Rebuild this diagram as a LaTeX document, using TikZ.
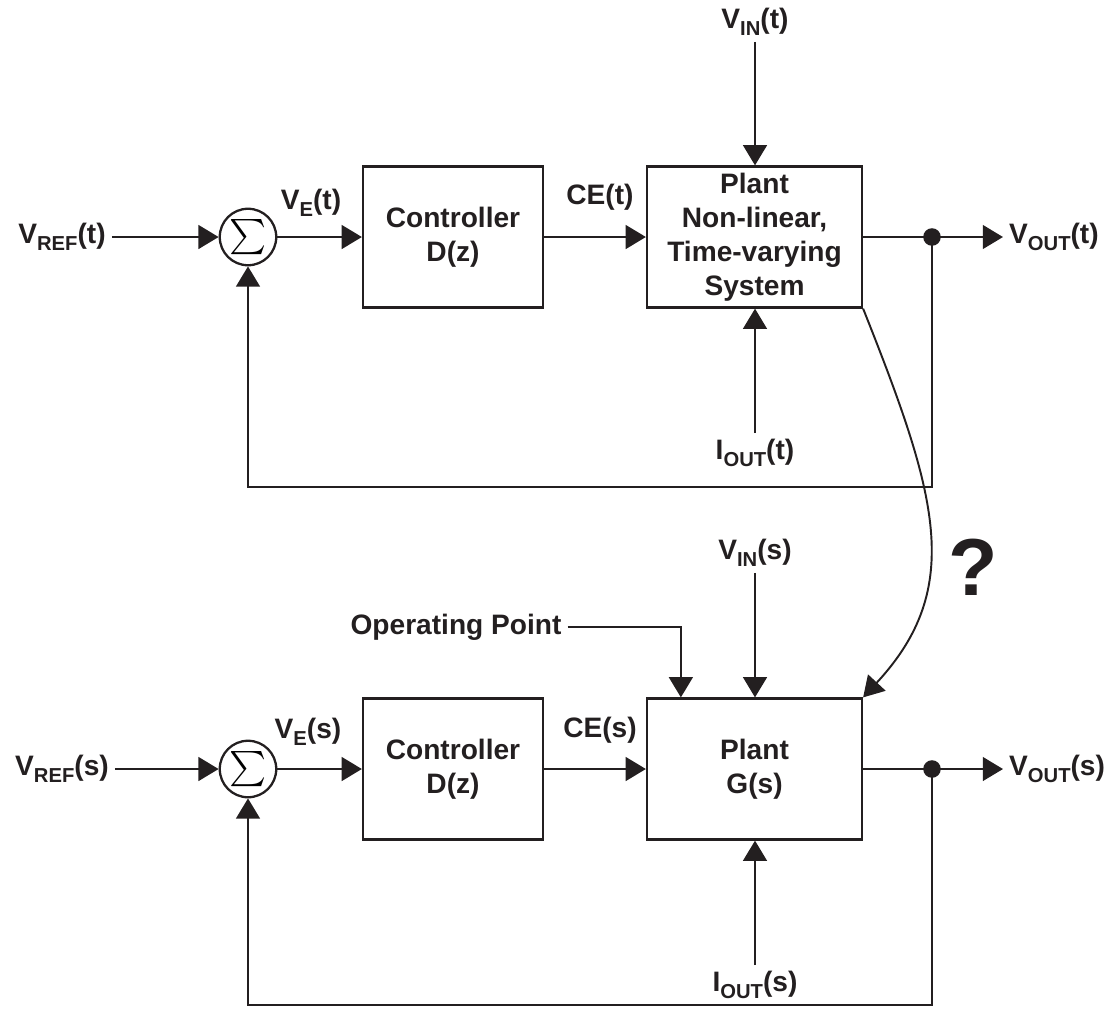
\documentclass[tikz,border=0pt]{standalone}
\usepackage{fontspec}
\setmainfont{Liberation Sans}
\usepackage{graphicx}
\usepackage{tikz}
\usetikzlibrary{calc,arrows.meta}
\definecolor{ink}{HTML}{231F20}
\newcommand{\sbs}[1]{\raisebox{-0.25em}{\fontsize{11.5}{11.5}\selectfont #1}}
\newcommand{\sumsym}{\scalebox{2}{$\sum$}}
\tikzset{
  wire/.style={draw=ink, line width=1.3pt},
  sig/.style={wire, -{Triangle[length=11.5pt,width=13.5pt]}},
  lab/.style={text=ink, font=\fontsize{16}{19.3}\selectfont\bfseries},
  blk/.style={lab, draw=ink, line width=1.3pt, minimum width=3.6cm, minimum height=2.82cm, align=center, inner sep=0pt},
  wblk/.style={blk, minimum width=4.3cm},
  sumc/.style={circle, draw=ink, line width=1.3pt, minimum size=1.13cm, inner sep=0pt},
  dot/.style={circle, fill=ink, inner sep=0pt, minimum size=10pt},
}

\begin{document}
\begin{tikzpicture}[x=0.02cm, y=-0.02cm]
  \useasboundingbox (0,0) rectangle (1119,1019);

  % time domain loop
  \node[sumc] (sum_t) at (248,237) {\sumsym};
  \node[blk] (ctrl_t) at (453,237) {Controller\\D(z)};
  \node[wblk] (plant_t) at (754.5,237) {Plant\\Non-linear,\\Time-varying\\System};
  \node[lab] (vref_t) at (62,237) {V\sbs{REF}(t)};
  \node[lab] (ve_t) at (311,203) {V\sbs{E}(t)};
  \node[lab] (ce_t) at (600,197) {CE(t)};
  \node[lab] (vin_t) at (755,22) {V\sbs{IN}(t)};
  \node[lab] (iout_t) at (755,453) {I\sbs{OUT}(t)};
  \node[lab, anchor=west] (vout_t) at (1003,237) {V\sbs{OUT}(t)};

  \draw[sig] (vref_t.east) -- (sum_t.west);
  \draw[sig] (sum_t) -- (ctrl_t);
  \draw[sig] (ctrl_t) -- (plant_t);
  \draw[sig] (plant_t.east) -- (vout_t.west);
  \draw[sig] (vin_t) -- (vin_t |- plant_t.north);
  \draw[sig] (iout_t) -- (iout_t |- plant_t.south);
  \node[dot] (dot_t) at (932,237) {};
  \draw[sig] (dot_t.center) -- ++(0,250) -| (sum_t.south);

  % s domain loop
  \node[sumc] (sum_s) at (248,769) {\sumsym};
  \node[blk] (ctrl_s) at (453,769) {Controller\\D(z)};
  \node[wblk] (plant_s) at (754.5,769) {Plant\\G(s)};
  \node[lab] (vref_s) at (62,769) {V\sbs{REF}(s)};
  \node[lab] (ve_s) at (308,732) {V\sbs{E}(s)};
  \node[lab] (ce_s) at (600,730) {CE(s)};
  \node[lab] (vin_s) at (755,553) {V\sbs{IN}(s)};
  \node[lab] (iout_s) at (755,985) {I\sbs{OUT}(s)};
  \node[lab, anchor=west] (vout_s) at (1003,769) {V\sbs{OUT}(s)};
  \node[lab] (op) at (456,627) {Operating Point};

  \draw[sig] (vref_s.east) -- (sum_s.west);
  \draw[sig] (sum_s) -- (ctrl_s);
  \draw[sig] (ctrl_s) -- (plant_s);
  \draw[sig] (plant_s.east) -- (vout_s.west);
  \draw[sig] (vin_s) -- (vin_s |- plant_s.north);
  \draw[sig] (iout_s) -- (iout_s |- plant_s.south);
  \draw[sig] (op.east) -| ([xshift=0.7cm]plant_s.north west);
  \node[dot] (dot_s) at (932,769) {};
  \draw[sig] (dot_s.center) -- ++(0,236) -| (sum_s.south);

  % linearisation
  \draw[sig, line width=1.1pt] (plant_t.south east) .. controls +(74,186) and +(102,-110) .. (plant_s.north east);
  \node[text=ink, font=\fontsize{46}{46}\selectfont\bfseries] (qm) at (973,567) {?};
\end{tikzpicture}
\end{document}
